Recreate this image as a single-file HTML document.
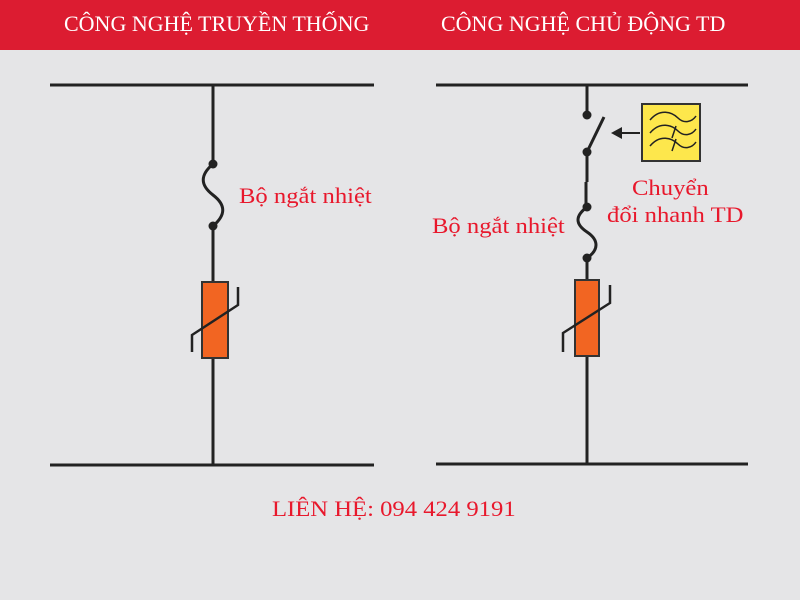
<!DOCTYPE html>
<html><head><meta charset="utf-8"><style>
body{margin:0;width:800px;height:600px;background:#e5e5e7;overflow:hidden;position:relative;font-family:"Liberation Serif",serif}
.hd{position:absolute;left:0;top:0;width:800px;height:50px;background:#dc1c31}
.t{position:absolute;white-space:nowrap}
.r{font-size:22px;color:#e8182c;transform:scaleX(1.12);transform-origin:0 0}
</style></head><body>
<div class="hd"></div>
<div class="t" style="left:64px;top:11px;font-size:22px;color:#fff">CÔNG NGHỆ TRUYỀN THỐNG</div>
<div class="t" style="left:441px;top:11px;font-size:22px;color:#fff">CÔNG NGHỆ CHỦ ĐỘNG TD</div>
<svg width="800" height="600" style="position:absolute;left:0;top:0">
<g stroke="#222" stroke-width="3" fill="none">
<line x1="50" y1="85" x2="374" y2="85"/>
<line x1="50" y1="465" x2="374" y2="465"/>
<line x1="213" y1="85" x2="213" y2="164"/>
<path d="M213 164 C200 175,200 185,213 195 C226 205,226 215,213 226"/>
<line x1="213" y1="226" x2="213" y2="282"/>
<line x1="213" y1="358" x2="213" y2="465"/>
<line x1="436" y1="85" x2="748" y2="85"/>
<line x1="436" y1="464" x2="748" y2="464"/>
<line x1="587" y1="85" x2="587" y2="115"/>
<line x1="587" y1="152" x2="604" y2="117"/>
<line x1="587" y1="152" x2="587" y2="182"/>
<line x1="586" y1="182" x2="586" y2="207"/>
<path d="M587 207 C575 216,575 224,587 232 C599 240,599 250,587 258"/>
<line x1="587" y1="258" x2="587" y2="280"/>
<line x1="587" y1="356" x2="587" y2="464"/>
<line x1="640" y1="133" x2="620" y2="133" stroke-width="2"/>
</g>
<polygon points="611,133 622,127 622,139" fill="#222"/>
<g fill="#222"><circle cx="213" cy="164" r="4.5"/><circle cx="213" cy="226" r="4.5"/>
<circle cx="587" cy="115" r="4.5"/><circle cx="587" cy="152" r="4.5"/><circle cx="587" cy="207" r="4.5"/><circle cx="587" cy="258" r="4.5"/></g>
<rect x="202" y="282" width="26" height="76" fill="#f26522" stroke="#333" stroke-width="2"/>
<polyline points="192,352 192,335 238,305 238,287" fill="none" stroke="#222" stroke-width="2.5"/>
<rect x="575" y="280" width="24" height="76" fill="#f26522" stroke="#333" stroke-width="2"/>
<polyline points="563,352 563,333 610,303 610,285" fill="none" stroke="#222" stroke-width="2.5"/>
<rect x="642" y="104" width="58" height="57" fill="#fde74c" stroke="#333" stroke-width="2"/>
<g fill="none" stroke="#222" stroke-width="1.5">
<path d="M650 120 C660 108,672 112,678 118 C684 124,692 122,696 116"/>
<path d="M650 133 C660 121,672 125,678 131 C684 137,692 135,696 129"/>
<path d="M650 146 C660 134,672 138,678 144 C684 150,692 148,696 142"/>
<line x1="672" y1="138" x2="676" y2="126"/><line x1="672" y1="151" x2="676" y2="139"/>
</g>
</svg>
<div class="t r" style="left:239px;top:183px">Bộ ngắt nhiệt</div>
<div class="t r" style="left:432px;top:213px">Bộ ngắt nhiệt</div>
<div class="t r" style="left:632px;top:175px">Chuyển</div>
<div class="t r" style="left:607px;top:202px">đổi nhanh TD</div>
<div class="t r" style="left:272px;top:496px">LIÊN HỆ: 094 424 9191</div>
</body></html>
